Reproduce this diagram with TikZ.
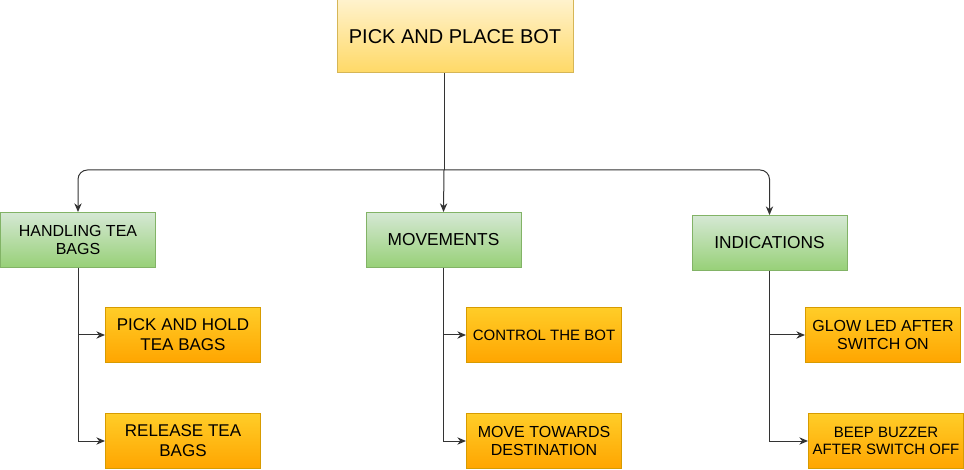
\documentclass[tikz,border=0pt]{standalone}
\usepackage{fontspec}
\setmainfont{Liberation Sans}
\usepackage{tikz}
\usetikzlibrary{positioning, arrows.meta, calc}
\definecolor{topfill}{HTML}{FFF2CC}
\definecolor{topgrad}{HTML}{FFD966}
\definecolor{topline}{HTML}{D6B656}
\definecolor{greenfill}{HTML}{D5E8D4}
\definecolor{greengrad}{HTML}{97D077}
\definecolor{greenline}{HTML}{82B366}
\definecolor{orangefill}{HTML}{FFCD28}
\definecolor{orangegrad}{HTML}{FFA500}
\definecolor{orangeline}{HTML}{D79B00}
\definecolor{wire}{HTML}{333333}

\begin{document}
\begin{tikzpicture}[
    x=0.75pt, y=-0.75pt,
    box/.style={draw, line width=0.75pt, minimum width=116.25pt, minimum height=41.25pt, align=center, inner sep=2pt, text=black, font=\fontsize{12pt}{14pt}\selectfont},
    topbox/.style={box, draw=topline, top color=topfill, bottom color=topgrad, minimum width=177pt, minimum height=54.75pt, font=\fontsize{15pt}{18pt}\selectfont},
    groupbox/.style={box, draw=greenline, top color=greenfill, bottom color=greengrad},
    taskbox/.style={box, draw=orangeline, top color=orangefill, bottom color=orangegrad},
    arrow/.style={-{Stealth[length=6.5pt, width=5.5pt]}, wire, line width=0.75pt}
]
\useasboundingbox (0,0) rectangle (964,470);

% Top: the bot
\node[topbox] (bot) at (455,36.5) {PICK AND PLACE BOT};
\coordinate (bus) at (444,170);

% Row 1: groups
\node[groupbox] (handling) at (78,240) {HANDLING TEA\\BAGS};
\node[groupbox, font=\fontsize{13pt}{15pt}\selectfont] (movements) at (443.5,240) {MOVEMENTS};
\node[groupbox, font=\fontsize{13pt}{15pt}\selectfont] (indications) at (769.5,243) {INDICATIONS};

\draw[wire, line width=0.75pt] (bot.south -| bus) -- (bus);
\draw[arrow, rounded corners=7pt] (bus) -| (handling.north);
\draw[arrow] (bus) -- (movements.north);
\draw[arrow, rounded corners=7pt] (bus) -| (indications.north);

% Row 2 and 3: tasks
\node[taskbox, font=\fontsize{12.75pt}{15pt}\selectfont] (pick) at (183,335) {PICK AND HOLD\\TEA BAGS};
\node[taskbox, font=\fontsize{12.75pt}{15pt}\selectfont] (release) at (183,441) {RELEASE TEA\\BAGS};
\node[taskbox, font=\fontsize{11.25pt}{13pt}\selectfont] (control) at (544,335) {CONTROL THE BOT};
\node[taskbox] (move) at (544,441) {MOVE TOWARDS\\DESTINATION};
\node[taskbox] (glow) at (883,335) {GLOW LED AFTER\\SWITCH ON};
\node[taskbox, font=\fontsize{11.25pt}{13pt}\selectfont] (beep) at (886,441) {BEEP BUZZER\\AFTER SWITCH OFF};

\draw[arrow] (handling.south) |- (pick.west);
\draw[arrow] (handling.south) |- (release.west);
\draw[arrow] (movements.south) |- (control.west);
\draw[arrow] (movements.south) |- (move.west);
\draw[arrow] (indications.south) |- (glow.west);
\draw[arrow] (indications.south) |- (beep.west);

\end{tikzpicture}
\end{document}
